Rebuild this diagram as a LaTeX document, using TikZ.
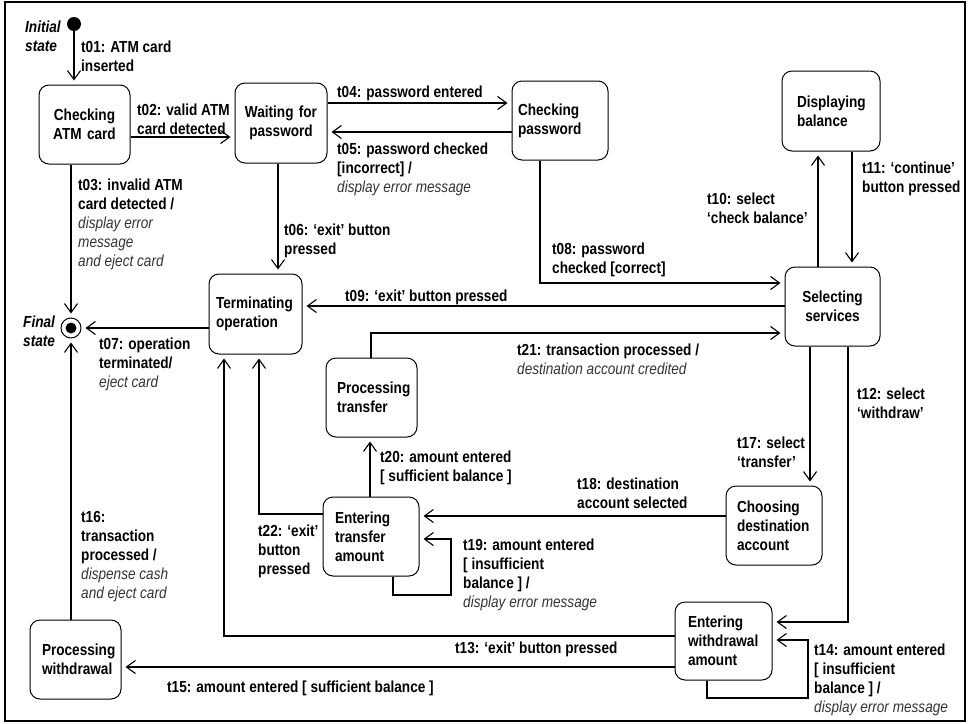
\documentclass[tikz,border=0pt]{standalone}
\usepackage{fontspec}
\setmainfont{Liberation Sans}[FakeStretch=0.85]
\usetikzlibrary{arrows.meta}
\definecolor{actgray}{HTML}{333333}
\newcommand\actx[1]{{\mdseries\itshape\color{actgray}#1}}
\begin{document}
\begin{tikzpicture}[x=1pt,y=-1pt,
  every node/.style={font=\fontsize{16}{19}\selectfont},
  state/.style={draw, rounded corners=10pt, line width=1pt, inner ysep=0pt,
    font=\fontsize{16}{19}\selectfont\bfseries},
  lbl/.style={anchor=north west, inner sep=0pt, align=left,
    font=\fontsize{16}{19}\selectfont\bfseries},
  conn/.style={line width=1.1pt},
  arr/.style={conn, -{Straight Barb[length=9pt,width=13pt,line width=1.1pt]}, shorten >=4pt}]
\useasboundingbox (0,0) rectangle (972,723);
\draw[line width=2pt] (5,2) rectangle (965,721);

% pseudo states
\node[circle, fill, minimum size=14pt, inner sep=0pt] (init) at (74,24) {};
\node[circle, draw, line width=1pt, minimum size=20pt, inner sep=0pt] (fin) at (71,328) {};
\fill (fin.center) circle (5.5);

% states
\node[state, minimum width=91pt, minimum height=79pt, inner xsep=6pt, text width=79pt, align=center] (cATM) at (84.5,124.5) {Checking\\ATM card};
\node[state, minimum width=92pt, minimum height=80pt, inner xsep=6pt, text width=80pt, align=center] (wPW) at (281,123) {Waiting for\\password};
\node[state, minimum width=96pt, minimum height=79pt, inner xsep=6pt, text width=84pt, align=left] (cPW) at (560,120.5) {Checking\\password};
\node[state, minimum width=98pt, minimum height=80pt, inner xsep=15pt, text width=68pt, align=left] (dBal) at (831,111) {Displaying\\balance};
\node[state, minimum width=95pt, minimum height=79pt, inner xsep=6pt, text width=83pt, align=center] (sSrv) at (832.5,306.5) {Selecting\\services};
\node[state, minimum width=93pt, minimum height=80pt, inner xsep=7pt, text width=79pt, align=left] (term) at (255.5,314) {Terminating\\operation};
\node[state, minimum width=91pt, minimum height=79pt, inner xsep=11pt, text width=69pt, align=left] (pTr) at (371.5,397.5) {Processing\\transfer};
\node[state, minimum width=96pt, minimum height=79pt, inner xsep=12pt, text width=72pt, align=left] (eTr) at (371,536.5) {Entering\\transfer\\amount};
\node[state, minimum width=96pt, minimum height=79pt, inner xsep=11pt, text width=74pt, align=left] (chDst) at (774,525.5) {Choosing\\destination\\account};
\node[state, minimum width=97pt, minimum height=78pt, inner xsep=13pt, text width=71pt, align=left] (eWd) at (723.5,641) {Entering\\withdrawal\\amount};
\node[state, minimum width=91pt, minimum height=79pt, inner xsep=12pt, text width=67pt, align=left] (pWd) at (75.5,659.5) {Processing\\withdrawal};

% transitions
\draw[arr] (init.south) -- (cATM.north -| init);
\draw[arr] (cATM.east |- 0,137) -- (wPW.west |- 0,137);
\draw[arr] (cATM.south -| fin) -- (fin.north);
\draw[arr] (wPW.east |- 0,103) -- (cPW.west |- 0,103);
\draw[arr] (cPW.west |- 0,132) -- (wPW.east |- 0,132);
\draw[arr] (wPW.south -| 278,0) -- (term.north -| 278,0);
\draw[arr] (term.west |- fin) -- (fin.east);
\draw[arr] (cPW.south -| 540,0) |- (sSrv.west |- 0,283);
\draw[arr] (sSrv.west |- 0,306) -- (term.east |- 0,306);
\draw[arr] (sSrv.north -| 818,0) -- (dBal.south -| 818,0);
\draw[arr] (dBal.south -| 852,0) -- (sSrv.north -| 852,0);
\draw[arr] (sSrv.south -| 848,0) |- (eWd.east |- 0,622);
\draw[arr] (eWd.west |- 0,636) -| (term.south -| 224,0);
\draw[arr] (eWd.south -| 707,0) |- (808,698) |- (eWd.east |- 0,640);
\draw[arr] (eWd.west |- 0,667) -- (pWd.east |- 0,667);
\draw[arr] (pWd.north -| fin) -- (fin.south);
\draw[arr] (sSrv.south -| 810,0) -- (chDst.north -| 810,0);
\draw[arr] (chDst.west |- 0,516) -- (eTr.east |- 0,516);
\draw[arr] (eTr.south -| 393,0) |- (451,595) |- (eTr.east |- 0,539);
\draw[arr] (eTr.north -| 370,0) -- (pTr.south -| 370,0);
\draw[arr] (pTr.north -| 371,0) |- (sSrv.west |- 0,333);
\draw[arr] (eTr.west |- 0,514) -| (term.south -| 259,0);

% labels
\node[lbl, font=\fontsize{16}{19}\selectfont\bfseries\itshape] (lInit) at (25,21) {Initial\\state};
\node[lbl, font=\fontsize{16}{19}\selectfont\bfseries\itshape] (lFin) at (23,316) {Final\\state};
\node[lbl] (l01) at (81,41) {t01: ATM card\\inserted};
\node[lbl] (l02) at (137,104) {t02: valid ATM\\card detected};
\node[lbl] (l03) at (78,179) {t03: invalid ATM\\card detected /\\\actx{display error}\\\actx{message}\\\actx{and eject card}};
\node[lbl] (l04) at (337,86) {t04: password entered};
\node[lbl] (l05) at (337,143) {t05: password checked\\{[}incorrect{]} /\\\actx{display error message}};
\node[lbl] (l06) at (284,224) {t06: ‘exit’ button\\pressed};
\node[lbl] (l07) at (99,338) {t07: operation\\terminated/\\\actx{eject card}};
\node[lbl] (l08) at (552,243) {t08: password\\checked {[}correct{]}};
\node[lbl] (l09) at (345,290) {t09: ‘exit’ button pressed};
\node[lbl] (l10) at (707,193) {t10: select\\‘check balance’};
\node[lbl] (l11) at (862,162) {t11: ‘continue’\\button pressed};
\node[lbl] (l12) at (857,388) {t12: select\\‘withdraw’};
\node[lbl] (l13) at (455,642) {t13: ‘exit’ button pressed};
\node[lbl] (l14) at (814,644) {t14: amount entered\\{[} insufficient\\balance {]} /\\\actx{display error message}};
\node[lbl] (l15) at (167,681) {t15: amount entered {[} sufficient balance {]}};
\node[lbl] (l16) at (81,511) {t16:\\transaction\\processed /\\\actx{dispense cash}\\\actx{and eject card}};
\node[lbl] (l17) at (737,437) {t17: select\\‘transfer’};
\node[lbl] (l18) at (577,478) {t18: destination\\account selected};
\node[lbl] (l19) at (463,539) {t19: amount entered\\{[} insufficient\\balance {]} /\\\actx{display error message}};
\node[lbl] (l20) at (380,451) {t20: amount entered\\{[} sufficient balance {]}};
\node[lbl] (l21) at (517,344) {t21: transaction processed /\\\actx{destination account credited}};
\node[lbl] (l22) at (258,525) {t22: ‘exit’\\button\\pressed};
\end{tikzpicture}
\end{document}
